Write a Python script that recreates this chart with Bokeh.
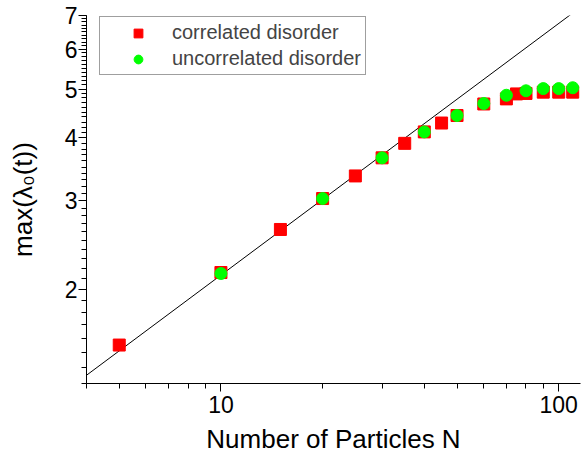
from bokeh.plotting import figure
from bokeh.models import FixedTicker, BasicTickFormatter, Legend, LegendItem
from bokeh.embed import file_html
from bokeh.resources import INLINE

# data
corr_N = [5, 10, 15, 20, 25, 30, 35, 40, 45, 50, 60, 70, 75, 80, 90, 100, 110]
corr_val = [1.55, 2.16, 2.63, 3.03, 3.36, 3.65, 3.90, 4.11, 4.28, 4.43, 4.67, 4.78, 4.89, 4.90, 4.93, 4.93, 4.93]
unc_N = [10, 20, 30, 40, 50, 60, 70, 80, 90, 100, 110]
unc_val = [2.15, 3.03, 3.65, 4.11, 4.43, 4.68, 4.86, 4.96, 5.01, 5.01, 5.03]
fit_N = [4, 116]
fit_val = [1.35, 7.27]

x_major = [10, 100]
x_minor = [4, 5, 6, 7, 8, 9, 20, 30, 40, 50, 60, 70, 80, 90]
y_major = [2, 3, 4, 5, 6, 7]
y_minor = [round(1.3 + 0.1 * i, 1) for i in range(58)]

FONT = "Liberation Sans"

p = figure(width=588, height=457, x_axis_type="log", y_axis_type="log",
           x_range=(4, 116), y_range=(1.3, 7), output_backend="svg",
           toolbar_location=None, min_border_left=86, min_border_right=8,
           min_border_top=15, min_border_bottom=74)
p.outline_line_color = None
p.xgrid.visible = False
p.ygrid.visible = False
p.background_fill_color = "white"
p.border_fill_color = "white"

p.line(fit_N, fit_val, line_color="black", line_width=1)
r1 = p.scatter(corr_N, corr_val, marker="square", size=12, fill_color="#ff0000", line_color="#ff0000")
r2 = p.scatter(unc_N, unc_val, marker="circle", size=12, fill_color="#00ff00", line_color="#00ff00")

for ax, major, minor in ((p.xaxis[0], x_major, x_minor), (p.yaxis[0], y_major, y_minor)):
    ax.ticker = FixedTicker(ticks=major, minor_ticks=minor)
    ax.formatter = BasicTickFormatter()
    ax.axis_line_color = "black"
    ax.axis_line_width = 1
    ax.major_tick_out = 8
    ax.major_tick_in = 0
    ax.minor_tick_out = 5
    ax.minor_tick_in = 0
    ax.major_tick_line_color = "black"
    ax.minor_tick_line_color = "black"
    ax.major_label_text_font = FONT
    ax.major_label_text_font_size = "23px"
    ax.major_label_text_color = "black"
    ax.axis_label_text_font = FONT
    ax.axis_label_text_font_size = "26px"
    ax.axis_label_text_font_style = "normal"
    ax.axis_label_text_color = "black"

p.xaxis.axis_label = "Number of Particles N"
p.xaxis.major_label_standoff = 4
p.xaxis.axis_label_standoff = 8
p.yaxis.axis_label = "max(λ₀(t))"
p.yaxis.major_label_standoff = 1
p.yaxis.axis_label_standoff = 24

legend = Legend(items=[LegendItem(label="correlated disorder", renderers=[r1]),
                       LegendItem(label="uncorrelated disorder", renderers=[r2])],
                location=(13, 308))
legend.label_text_font = FONT
legend.label_text_font_size = "20px"
legend.padding = 4
legend.margin = 0
legend.glyph_width = 68
legend.glyph_height = 22
legend.label_height = 22
legend.label_standoff = 0
legend.spacing = 3
legend.border_line_color = "#404040"
legend.border_line_width = 1
legend.background_fill_alpha = 1
p.add_layout(legend)

open("out.html", "w").write(file_html(p, INLINE))
